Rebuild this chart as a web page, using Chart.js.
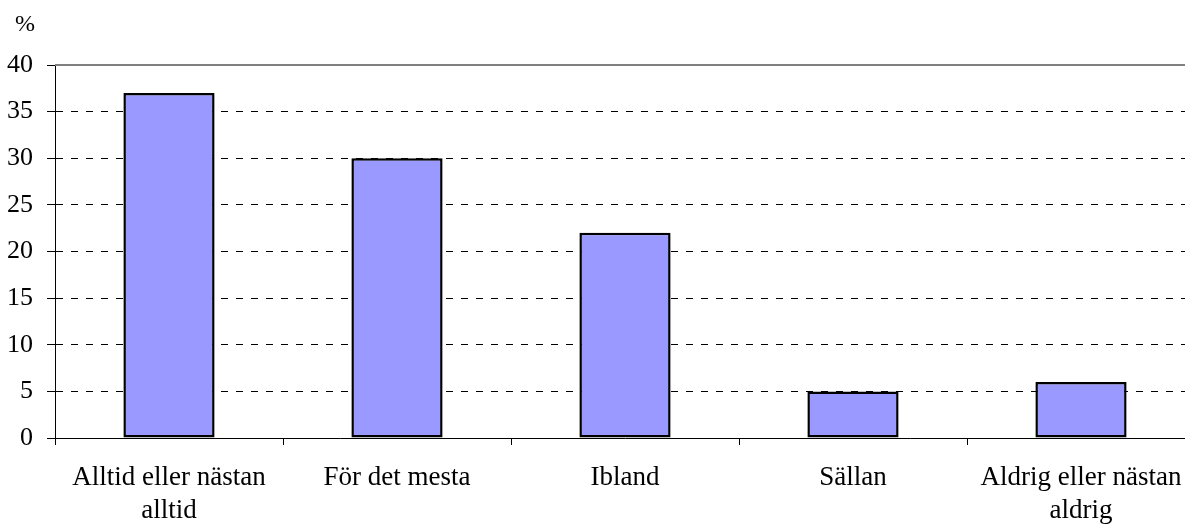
<!DOCTYPE html>
<html>
<head>
<meta charset="utf-8">
<script src="https://cdn.jsdelivr.net/npm/chart.js@4/dist/chart.umd.min.js"></script>
<style>
	html, body { margin: 0; padding: 0; background: #fff; overflow: hidden; }
	#wrap { width: 1200px; height: 524px; }
</style>
</head>
<body>
<div id="wrap"><canvas id="chart"></canvas></div>
<script>
const categories = [
	['Alltid eller nästan', 'alltid'],
	'För det mesta',
	'Ibland',
	'Sällan',
	['Aldrig eller nästan', 'aldrig']
];
const values = [37, 30, 22, 5, 6];
const yTicks = [0, 5, 10, 15, 20, 25, 30, 35, 40];
const unitLabel = '%';

document.addEventListener("DOMContentLoaded", function () {
	const ctx = document.getElementById("chart").getContext("2d");
	const serif = "'Liberation Serif', 'Times New Roman', serif";

	// верхняя рамка области графика и подпись единиц
	const frame = {
		id: 'frame',
		afterDraw(chart) {
			const a = chart.chartArea;
			const c = chart.ctx;
			c.save();
			c.strokeStyle = '#808080';
			c.lineWidth = 2;
			c.beginPath();
			c.moveTo(a.left, a.top);
			c.lineTo(a.right, a.top);
			c.stroke();
			c.fillStyle = '#000';
			c.font = "24px " + serif;
			c.textAlign = 'left';
			c.textBaseline = 'middle';
			c.fillText(unitLabel, 15, 25);
			c.restore();
		}
	};

	new Chart(ctx, {
		type: 'bar',
		data: {
			labels: categories,
			datasets: [{
				data: values,
				backgroundColor: '#9999ff',
				borderColor: '#000',
				borderWidth: 2.5,
				borderSkipped: false,
				barPercentage: 0.4,
				categoryPercentage: 1
			}]
		},
		options: {
			responsive: true,
			maintainAspectRatio: false,
			animation: false,
			layout: { padding: { left: 0, right: 5, top: 65, bottom: 0 } },
			plugins: {
				legend: { display: false },
				tooltip: { enabled: false }
			},
			scales: {
				x: {
					offset: true,
					grid: {
						offset: true,
						drawOnChartArea: false,
						tickLength: 7,
						tickColor: '#000',
						color: '#000'
					},
					border: { color: '#000', width: 1 },
					ticks: {
						color: '#000',
						padding: 16,
						maxRotation: 0,
						autoSkip: false,
						font: { family: serif, size: 27, lineHeight: 1.22 }
					},
					afterFit(s) { s.height = 86; }
				},
				y: {
					min: 0,
					max: 40,
					afterBuildTicks(s) { s.ticks = yTicks.map(v => ({ value: v })); },
					grid: {
						color: (c) => (c.tick && (c.tick.value === 40 || c.tick.value === 0)) ? 'rgba(0,0,0,0)' : '#000',
						tickColor: '#000',
						tickLength: 8,
						tickBorderDash: [],
						lineWidth: 1
					},
					border: { color: '#000', width: 1, dash: [7, 8] },
					ticks: {
						color: '#000',
						padding: 14,
						font: { family: serif, size: 26 }
					},
					afterFit(s) { s.width = 55; }
				}
			}
		},
		plugins: [frame]
	});
});
</script>
</body>
</html>
